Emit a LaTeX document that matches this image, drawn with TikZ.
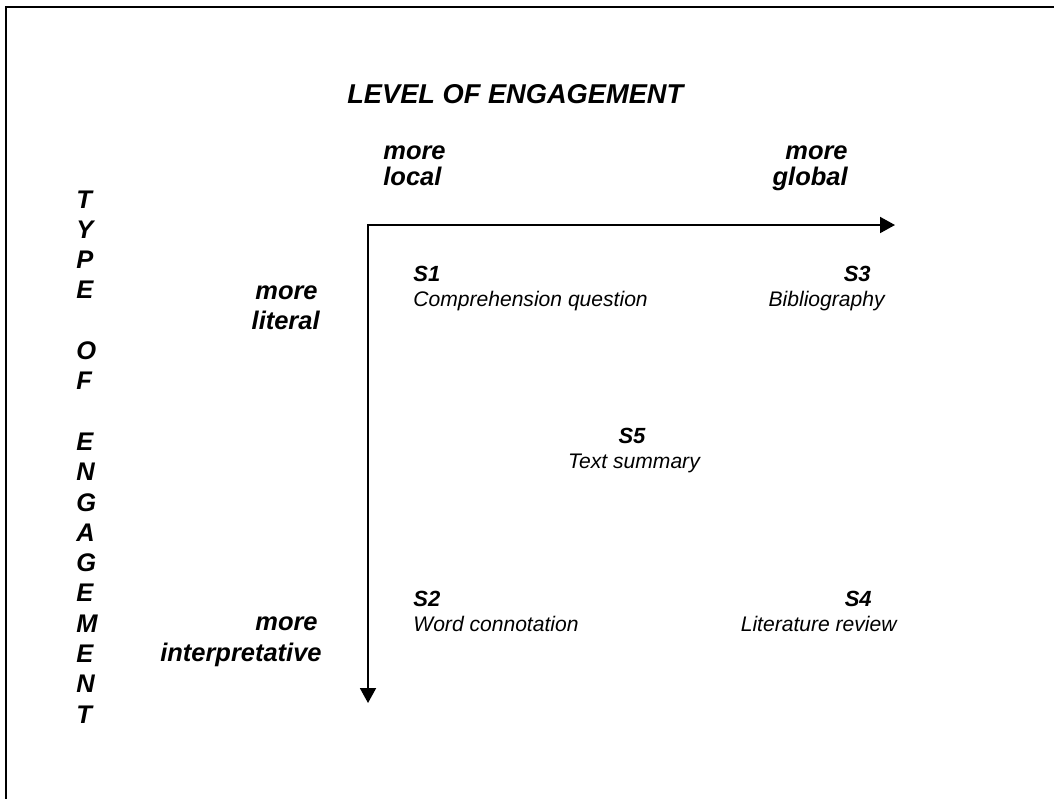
\documentclass[tikz,border=0pt]{standalone}
\usepackage{fontspec}
\setmainfont{Liberation Sans}
\usetikzlibrary{arrows.meta}
\tikzstyle{frame} = [line width=1pt]
\tikzstyle{arrow} = [line width=1.1pt, {Triangle[length=0.3cm,width=0.32cm]}-{Triangle[length=0.3cm,width=0.32cm]}]
\tikzstyle{title} = [inner sep=0pt, font=\fontsize{15.5}{18}\selectfont\bfseries\itshape]
\tikzstyle{pole} = [inner sep=0pt, font=\fontsize{14.5}{17}\selectfont\bfseries\itshape]
\tikzstyle{tag} = [inner sep=0pt, font=\fontsize{12.5}{15}\selectfont\bfseries\itshape]
\tikzstyle{task} = [inner sep=0pt, font=\fontsize{12}{14}\selectfont\itshape]
\begin{document}
\begin{tikzpicture}[x=0.02cm, y=-0.02cm]

\useasboundingbox (0,0) rectangle (1054,798);
\draw [frame] (6.3,830) -- (6.3,7) -- (1090,7);

\node (level) [title, anchor=base west] at (347,103) {LEVEL OF ENGAGEMENT};

\node (local1) [pole, anchor=base west] at (383,159) {more};
\node (local2) [pole, anchor=base west] at (383,185) {local};
\node (global1) [pole, anchor=base east] at (848,159) {more};
\node (global2) [pole, anchor=base east] at (848,185) {global};

% axes
\coordinate (origin) at (368,225);
\coordinate (xend) at (895,225);
\coordinate (yend) at (368,703);
\draw [arrow] (yend) -- (origin) -- (xend);

% vertical caption
\foreach \l/\i in {T/0,Y/1,P/2,E/3,O/5,F/6,E/8,N/9,G/10,A/11,G/12,E/13,M/14,E/15,N/16,T/17}
  \node (type\i) [pole, anchor=base west] at (76,{208+\i*30.3}) {\l};

\node (literal1) [pole, anchor=base east] at (318,299) {more};
\node (literal2) [pole, anchor=base east] at (320,329) {literal};
\node (interp1) [pole, anchor=base east] at (318,630) {more};
\node (interp2) [pole, anchor=base east] at (322,661) {interpretative};

% scenarios
\node (s1) [tag, anchor=base west] at (413,281) {S1};
\node (s1task) [task, anchor=base west] at (413,306) {Comprehension question};
\node (s3) [tag, anchor=base east] at (871,281) {S3};
\node (s3task) [task, anchor=base east] at (885,306) {Bibliography};
\node (s5) [tag, anchor=base] at (632,443) {S5};
\node (s5task) [task, anchor=base] at (634,468) {Text summary};
\node (s2) [tag, anchor=base west] at (413,606) {S2};
\node (s2task) [task, anchor=base west] at (413,631) {Word connotation};
\node (s4) [tag, anchor=base east] at (872,606) {S4};
\node (s4task) [task, anchor=base east] at (897,631) {Literature review};

\end{tikzpicture}
\end{document}
